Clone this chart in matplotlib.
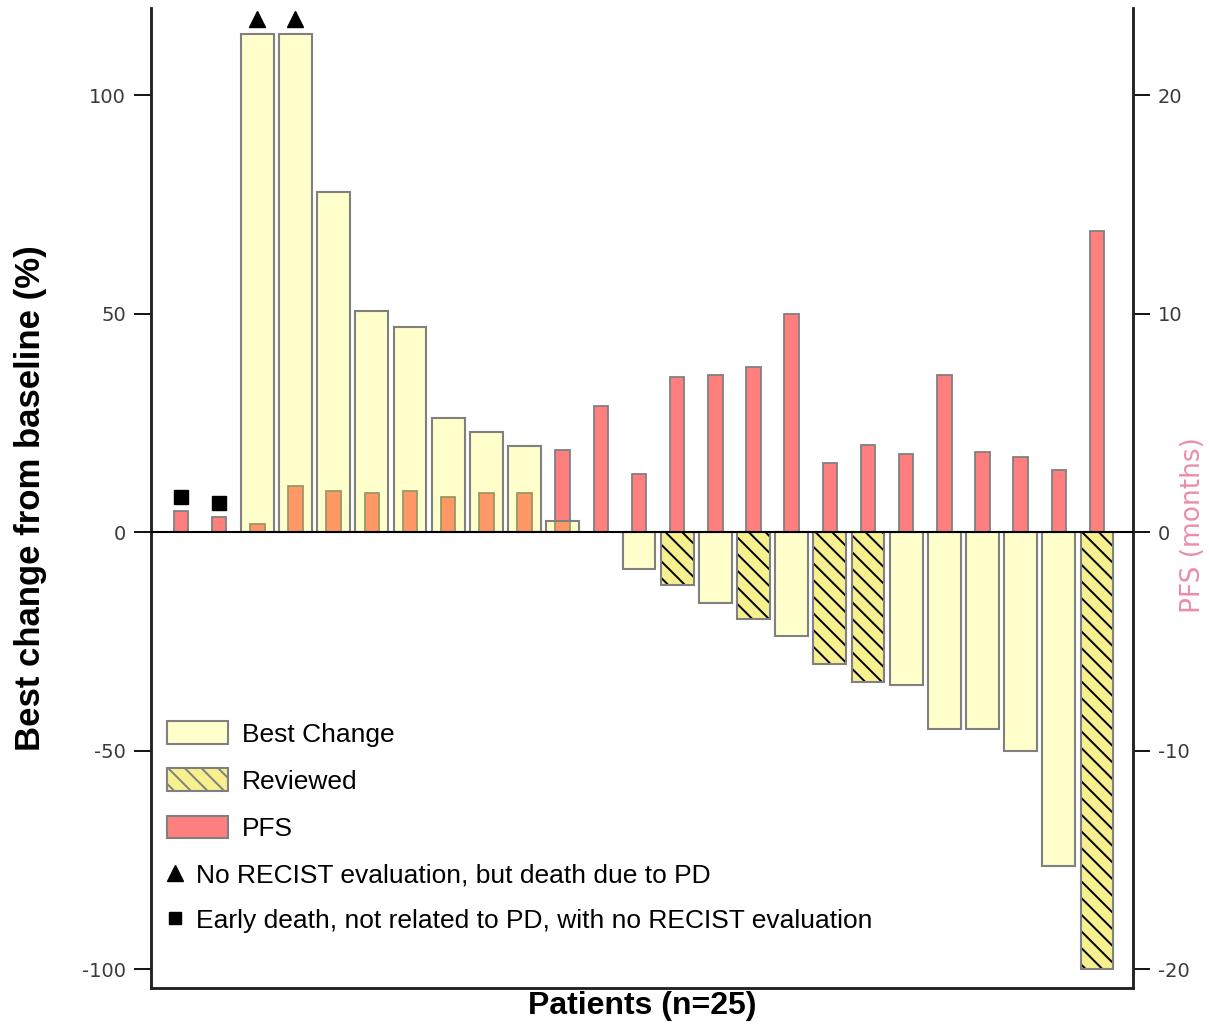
import matplotlib.pyplot as plt
import numpy as np
from matplotlib.patches import Patch
from matplotlib.lines import Line2D
from matplotlib.transforms import ScaledTranslation
from matplotlib import font_manager

# --- dados ---
patients = np.arange(1, 26)
best_change = [np.nan, np.nan, 114, 114, 78, 50.6, 47.1, 26.1, 22.9, 19.7, 2.7, np.nan,
               -8.5, -12.1, -16.2, -19.9, -23.8, -30.2, -34.3, -35, -45.1, -45.1,
               -50.1, -76.4, -100]
pfs_months = [0.96, 0.69, 0.37, 2.1, 1.88, 1.79, 1.88, 1.6, 1.79, 1.79, 3.75, 5.8,
              2.65, 7.1, 7.2, 7.55, 10.0, 3.16, 3.98, 3.57, 7.18, 3.66, 3.43, 2.84, 13.8]
reviewed = [14, 16, 18, 19, 25]
death_pd = [3, 4]
early_death = [1, 2]

installed = {f.name for f in font_manager.fontManager.ttflist}
narrow = 'Liberation Sans Narrow' if 'Liberation Sans Narrow' in installed else 'Liberation Sans'

plt.rcParams['hatch.linewidth'] = 1.4
plt.rcParams['axes.unicode_minus'] = False

best = np.array(best_change, dtype=float)
pfs = np.array(pfs_months)
is_rev = np.isin(patients, reviewed)

fig = plt.figure(figsize=(12.09, 10.31), dpi=100)
ax = fig.add_axes([0.1249, 0.0417, 0.8122, 0.9505])
ax2 = ax.twinx()
ax.set_zorder(ax2.get_zorder() + 1)
ax.patch.set_visible(False)

# PFS (eixo direito), por baixo
ax2.bar(patients, pfs, width=0.38, color='#FF7F7F', edgecolor='#808080', linewidth=1.3)

# Best change (eixo esquerdo), amarelo transparente por cima -> laranja na sobreposição
m = ~is_rev & ~np.isnan(best)
ax.bar(patients[m], best[m], width=0.86, facecolor=(1, 1, 0, 0.2),
       edgecolor='#808080', linewidth=1.5)
ax.bar(patients[is_rev], best[is_rev], width=0.86, color='#F7F08F',
       edgecolor='black', hatch='\\\\', linewidth=0)
ax.bar(patients[is_rev], best[is_rev], width=0.86, fill=False,
       edgecolor='#808080', linewidth=1.5)

ax.axhline(0, color='black', linewidth=1.5, zorder=5)

# marcadores acima das barras
up = ax.transData + ScaledTranslation(0, 0.15, fig.dpi_scale_trans)
idx = np.array(death_pd) - 1
ax.plot(patients[idx], best[idx], '^', color='black', markersize=12,
        transform=up, clip_on=False)
idx = np.array(early_death) - 1
up2 = ax2.transData + ScaledTranslation(0, 0.14, fig.dpi_scale_trans)
ax2.plot(patients[idx], pfs[idx], 's', color='black', markersize=10,
         transform=up2, clip_on=False)

ax.set_xlim(0.215, 25.94)
ax.set_ylim(-104.3, 120)
ax2.set_ylim(-104.3 / 5, 120 / 5)
ax.set_xticks([])
ax.set_yticks([-100, -50, 0, 50, 100])
ax2.set_yticks([-20, -10, 0, 10, 20])
for a in (ax, ax2):
    a.tick_params(axis='y', length=12, width=1.3, pad=6, labelsize=14,
                  labelcolor='#3a3a3a')
    a.spines['top'].set_visible(False)
    for s in ('left', 'right', 'bottom'):
        a.spines[s].set_linewidth(1.8)
        a.spines[s].set_color('#222222')

ax.set_ylabel('Best change from baseline (%)', family=narrow, fontweight='bold',
              fontsize=25)
ax.yaxis.set_label_coords(-0.106, 0.5)
ax.set_xlabel('Patients (n=25)', family=narrow, fontweight='bold', fontsize=23,
              labelpad=2)
ax2.set_ylabel('PFS (months)', color='#E8799A', fontsize=19, alpha=0.85)
ax2.yaxis.set_label_coords(1.048, 0.4724)

# legenda
fs = 19
h1 = [Patch(facecolor=(1, 1, 0, 0.2), edgecolor='#808080', linewidth=1.5),
      Patch(facecolor='#F7F08F', edgecolor='#808080', hatch='\\\\', linewidth=1.5),
      Patch(facecolor='#FF7F7F', edgecolor='#808080', linewidth=1.5)]
leg1 = ax.legend(h1, ['Best Change', 'Reviewed', 'PFS'], loc='upper left',
                 bbox_to_anchor=(0.0163, 0.272), frameon=False, borderpad=0,
                 borderaxespad=0, handlelength=2.31, handleheight=0.91,
                 handletextpad=0.53, labelspacing=0.83,
                 prop={'family': narrow, 'size': fs})
ax.add_artist(leg1)
h2 = [Line2D([], [], marker='^', color='black', linestyle='None', markersize=11),
      Line2D([], [], marker='s', color='black', linestyle='None', markersize=8)]
ax.legend(h2, ['No RECIST evaluation, but death due to PD',
               'Early death, not related to PD, with no RECIST evaluation'],
          loc='upper left', bbox_to_anchor=(0.0177, 0.127), frameon=False,
          borderpad=0, borderaxespad=0, handlelength=0.5, handletextpad=0.55,
          labelspacing=0.8, prop={'family': narrow, 'size': fs})

fig.savefig('out.png', dpi=100)
